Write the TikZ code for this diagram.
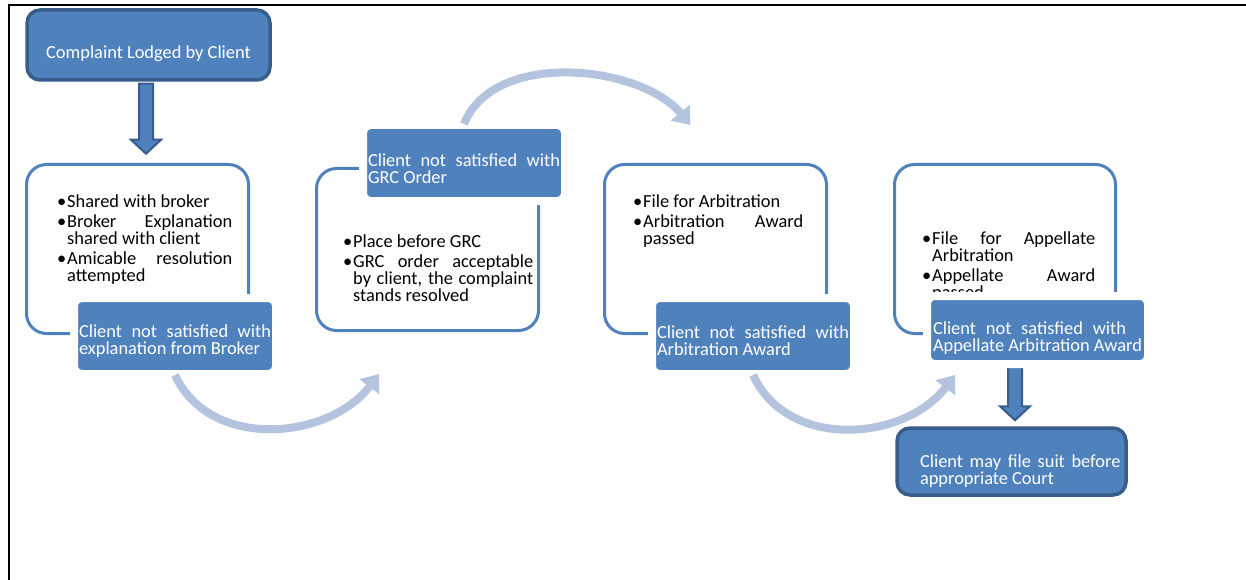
\documentclass[tikz,border=0pt]{standalone}
\usepackage{fontspec}
\setmainfont{Carlito}
\usepackage{xcolor}
\usepackage{tikz}
\usetikzlibrary{arrows.meta,calc}

\definecolor{boxblue}{HTML}{4F81BD}
\definecolor{boxdark}{HTML}{385D8A}
\definecolor{arclight}{HTML}{B4C4DF}

\newcommand{\bodyfont}{\fontsize{18.4}{17}\selectfont\lineskiplimit=-20pt\parskip=3pt\hyphenpenalty=10000\tolerance=10000}
\newcommand{\bitem}{\par\hangindent=10pt\hangafter=1\noindent\makebox[10pt][l]{\textbullet}}

\tikzset{
  outline/.style={draw=boxblue, line width=3pt, rounded corners=20pt, fill=white, inner sep=0pt},
  subbox/.style={fill=boxblue, draw=white, line width=8pt, rounded corners=8pt, text=white, font=\bodyfont, align=justify, inner xsep=1pt, inner ysep=0pt},
  darkbox/.style={fill=boxblue, draw=boxdark, line width=3.5pt, rounded corners=13pt, text=white, font=\bodyfont, inner sep=0pt},
  bullets/.style={anchor=north west, inner sep=0pt, align=justify, font=\bodyfont},
  curvy/.style={draw=arclight, line width=8pt, -{Triangle[length=16pt,width=24pt]}},
  blockarr/.style={fill=boxblue, draw=boxdark, line width=2pt}
}

\begin{document}
\begin{tikzpicture}[x=1pt,y=-1pt]
    \useasboundingbox (0,0) rectangle (1246,580);
    \draw[line width=2pt] (9,580) -- (9,5) -- (1246,5);

    \node[darkbox, minimum width=243, minimum height=70] (lodged) at (148.5,45) {\rule{0pt}{30pt}Complaint Lodged by Client};

    \node[outline, minimum width=222, minimum height=169] (box1) at (137.5,249) {};
    \node[outline, minimum width=222, minimum height=162] (box2) at (427.5,249.5) {};
    \node[outline, minimum width=222, minimum height=169] (box3) at (715.5,249) {};
    \node[outline, minimum width=221, minimum height=169] (box4) at (1005,249) {};

    \node[bullets, text width=175] (list1) at (57,187) {\bitem Shared with broker\bitem Broker Explanation\linebreak shared with client\bitem Amicable resolution\linebreak attempted\par};
    \node[bullets, text width=190] (list2) at (343,227) {\bitem Place before GRC\bitem GRC order acceptable\linebreak by client, the complaint\linebreak stands resolved\par};
    \node[bullets, text width=170] (list3) at (633,187) {\bitem File for Arbitration\bitem Arbitration Award\linebreak passed\par};
    \node[bullets, text width=173] (list4) at (922,224) {\bitem File for Appellate\linebreak Arbitration\bitem Appellate Award\linebreak passed\par};

    \node[subbox, text width=192, minimum width=202, minimum height=76] (s1) at (175,336) {\rule{0pt}{23pt}Client not satisfied with\linebreak explanation from Broker\par};
    \node[subbox, text width=192, minimum width=202, minimum height=76] (s2) at (464,163) {\rule{0pt}{25pt}Client not satisfied with\linebreak GRC Order\par};
    \node[subbox, text width=192, minimum width=202, minimum height=76] (s3) at (753,336) {\rule{0pt}{23pt}Client not satisfied with\linebreak Arbitration Award\par};

    \draw[blockarr] ($(lodged.south)+(-9.5,2)$) -- ++(0,56) -- ++(-8,0) -- ++(15,14) -- ++(15,-14) -- ++(-8,0) -- ++(0,-56) -- cycle;

    \node[darkbox, text width=218, minimum width=229, minimum height=67, align=justify] (court) at (1011.5,461.5) {\leftskip=17.5pt\rule{0pt}{32pt}Client may file suit before\linebreak appropriate Court\par};
    \draw[blockarr] ($(court.north)+(3.5,-6)$) -- ++(-15,-14) -- ++(8,0) -- ++(0,-42) -- ++(14,0) -- ++(0,42) -- ++(8,0) -- cycle;

    \node[subbox, text width=209, minimum width=221, minimum height=68] (s4) at (1037.5,330) {\rule{0pt}{29pt}Client not satisfied with\hspace*{16pt}\linebreak Appellate Arbitration Award\par};

    \draw[curvy] ($(s1.south)+(0,-3)$) .. controls +(35,76) and +(-50,66) .. ($(box2.south west)+(64,42)$);
    \draw[curvy] ($(s2.north)+(0,3)$) .. controls +(30,-75) and +(-50,-60) .. ($(box3.north)+(-25,-38)$);
    \draw[curvy] ($(s3.south)+(0,-3)$) .. controls +(35,76) and +(-50,66) .. ($(box4.south west)+(62,40)$);
\end{tikzpicture}
\end{document}
